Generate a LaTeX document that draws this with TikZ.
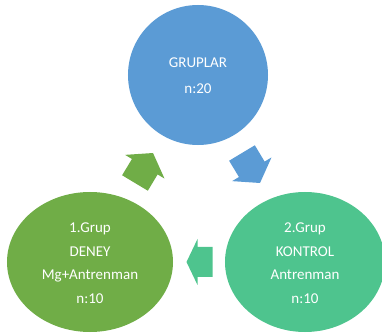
\documentclass[tikz,border=0pt]{standalone}
\usepackage{fontspec}
\setmainfont{Carlito}
\usetikzlibrary{shapes.geometric}
\definecolor{cblue}{HTML}{5B9BD5}
\definecolor{cgreen}{HTML}{70AD47}
\definecolor{cteal}{HTML}{4EC48E}
\newcommand\blockarrow[6]{% color, x, y, angle, length, head length
  \fill[#1, shift={(#2,#3)}, rotate=#4]
    ({-#5/2},-15) -- ({#5/2-#6},-15) -- ({#5/2-#6},-23) -- ({#5/2},0)
    -- ({#5/2-#6},23) -- ({#5/2-#6},15) -- ({-#5/2},15) -- cycle;}
\begin{document}
\begin{tikzpicture}[x=1bp,y=1bp,
  lbl/.style={text=white, align=center, inner sep=0pt, font=\fontsize{15bp}{23.5bp}\selectfont}]
\useasboundingbox (0,0) rectangle (382,336);
\node[circle, fill=cblue, minimum size=140bp, inner sep=0pt] (top) at (198,261) {};
\node[ellipse, fill=cgreen, minimum width=166bp, minimum height=140bp, inner sep=0pt] (left) at (90,74) {};
\node[ellipse, fill=cteal, minimum width=160bp, minimum height=140bp, inner sep=0pt] (right) at (305,74) {};
\node[lbl, font=\fontsize{15bp}{26bp}\selectfont] (toptxt) at (198,260) {GRUPLAR\\n:20};
\node[lbl] (lefttxt) at (90,73) {1.Grup\\DENEY\\Mg+Antrenman\\n:10};
\node[lbl] (righttxt) at (305,73) {2.Grup\\KONTROL\\Antrenman\\n:10};
\blockarrow{cgreen}{144}{168}{59}{35}{16}
\blockarrow{cblue}{251}{168}{-59}{35}{16}
\blockarrow{cteal}{199.5}{74}{180}{26}{11}
\end{tikzpicture}
\end{document}
